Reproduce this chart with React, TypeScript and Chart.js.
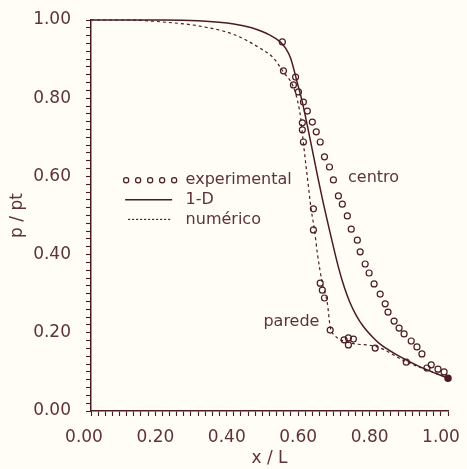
import React, { useEffect, useRef } from "react";
import { Chart, registerables } from "chart.js";

Chart.register(...registerables);

// 1-D model curve
const oneDX = [0, 0.1, 0.2, 0.3, 0.4, 0.45, 0.5, 0.53, 0.545, 0.559, 0.578, 0.592, 0.606, 0.62, 0.634, 0.648, 0.67, 0.693, 0.71, 0.725, 0.742, 0.763, 0.79, 0.81, 0.858, 0.922, 1.0];
const oneDY = [1, 1, 1, 0.998, 0.99, 0.98, 0.962, 0.944, 0.928, 0.903, 0.839, 0.79, 0.73, 0.667, 0.604, 0.543, 0.455, 0.368, 0.315, 0.278, 0.246, 0.216, 0.188, 0.171, 0.143, 0.113, 0.084];

// numerical (wall) curve
const numX = [0, 0.1, 0.2, 0.3, 0.4, 0.475, 0.511, 0.539, 0.567, 0.578, 0.587, 0.595, 0.606, 0.617, 0.626, 0.634, 0.648, 0.662, 0.67, 0.682, 0.718, 0.802, 0.885, 0.941, 1.0];
const numY = [1, 1, 0.995, 0.985, 0.963, 0.927, 0.903, 0.867, 0.829, 0.795, 0.752, 0.685, 0.598, 0.514, 0.463, 0.404, 0.327, 0.276, 0.215, 0.194, 0.176, 0.164, 0.125, 0.105, 0.084];

// experimental, centre line
const centroX = [0.536, 0.573, 0.581, 0.595, 0.606, 0.62, 0.631, 0.642, 0.654, 0.668, 0.679, 0.693, 0.704, 0.718, 0.729, 0.746, 0.754, 0.768, 0.779, 0.793, 0.81, 0.824, 0.832, 0.849, 0.863, 0.877, 0.897, 0.913, 0.927, 0.953, 0.972, 0.989];
const centroY = [0.944, 0.854, 0.816, 0.79, 0.767, 0.739, 0.714, 0.688, 0.65, 0.624, 0.591, 0.55, 0.529, 0.499, 0.465, 0.437, 0.407, 0.376, 0.353, 0.325, 0.299, 0.274, 0.253, 0.23, 0.212, 0.197, 0.179, 0.164, 0.146, 0.118, 0.107, 0.1];

// experimental, wall
const paredeX = [0.539, 0.567, 0.592, 0.592, 0.595, 0.623, 0.623, 0.642, 0.648, 0.654, 0.67, 0.709, 0.721, 0.735, 0.721, 0.796, 0.883, 0.941];
const paredeY = [0.87, 0.834, 0.737, 0.719, 0.688, 0.517, 0.463, 0.327, 0.309, 0.289, 0.207, 0.182, 0.187, 0.184, 0.169, 0.161, 0.125, 0.11];

const tickLabelsShown = ["0.00", "0.20", "0.40", "0.60", "0.80", "1.00"];

const LINE = "#4a1c22";
const TEXT = "#5e3338";
const BG = "#fffdf6";
const FONT = "'DejaVu Sans', sans-serif";

const zip = (xs: number[], ys: number[]) => xs.map((x, i) => ({ x, y: ys[i] }));

const overlayPlugin = {
  id: "overlay",
  beforeDraw(chart: any) {
    const { ctx, width, height } = chart;
    ctx.save();
    ctx.fillStyle = BG;
    ctx.fillRect(0, 0, width, height);
    ctx.restore();
  },
  afterDraw(chart: any) {
    const { ctx, scales } = chart;
    const xs = scales.x;
    const ys = scales.y;
    ctx.save();
    ctx.font = `16px ${FONT}`;
    ctx.fillStyle = TEXT;
    ctx.strokeStyle = LINE;
    ctx.textBaseline = "middle";
    ctx.textAlign = "left";
    // legend
    const lx = xs.getPixelForValue(0.09);
    const textX = xs.getPixelForValue(0.265);
    const row1 = ys.getPixelForValue(0.59);
    const row2 = ys.getPixelForValue(0.54);
    const row3 = ys.getPixelForValue(0.49);
    ctx.lineWidth = 1.2;
    for (let i = 0; i < 5; i++) {
      ctx.beginPath();
      ctx.arc(lx + 3 + i * 12, row1, 2.6, 0, Math.PI * 2);
      ctx.stroke();
    }
    ctx.fillText("experimental", textX, row1);
    ctx.lineWidth = 1.5;
    ctx.beginPath();
    ctx.moveTo(lx + 2, row2);
    ctx.lineTo(lx + 49, row2);
    ctx.stroke();
    ctx.fillText("1-D", textX, row2);
    ctx.lineWidth = 1.2;
    ctx.setLineDash([2, 2]);
    ctx.beginPath();
    ctx.moveTo(lx + 5, row3);
    ctx.lineTo(lx + 48, row3);
    ctx.stroke();
    ctx.setLineDash([]);
    ctx.fillText("numérico", textX, row3);
    // annotations
    ctx.fillText("centro", xs.getPixelForValue(0.72), ys.getPixelForValue(0.596));
    ctx.fillText("parede", xs.getPixelForValue(0.483), ys.getPixelForValue(0.228));
    ctx.restore();
  },
};

const tickCallback = (v: any) => {
  const k = Math.round(Number(v) * 5);
  return Math.abs(Number(v) * 5 - k) < 1e-6 ? tickLabelsShown[k] : "";
};

export default function App() {
  const ref = useRef<HTMLCanvasElement | null>(null);
  useEffect(() => {
    if (!ref.current) return;
    const lastIdx = oneDX.length - 1;
    const chart = new Chart(ref.current, {
      type: "line",
      data: {
        datasets: [
          {
            label: "1-D",
            data: zip(oneDX, oneDY),
            borderColor: LINE,
            backgroundColor: LINE,
            borderWidth: 1.5,
            cubicInterpolationMode: "monotone",
            pointRadius: (c: any) => (c.dataIndex === lastIdx ? 3 : 0),
            fill: false,
            clip: 6,
          },
          {
            label: "numérico",
            data: zip(numX, numY),
            borderColor: LINE,
            borderWidth: 1.2,
            borderDash: [3, 3],
            cubicInterpolationMode: "monotone",
            pointRadius: 0,
            fill: false,
            clip: 6,
          },
          {
            label: "experimental",
            data: zip(centroX, centroY),
            showLine: false,
            borderColor: LINE,
            backgroundColor: "rgba(0,0,0,0)",
            pointStyle: "circle",
            pointRadius: 3,
            pointBorderWidth: 1.2,
            clip: 6,
          },
          {
            label: "experimental parede",
            data: zip(paredeX, paredeY),
            showLine: false,
            borderColor: LINE,
            backgroundColor: "rgba(0,0,0,0)",
            pointStyle: "circle",
            pointRadius: 3,
            pointBorderWidth: 1.2,
            clip: 6,
          },
        ],
      },
      options: {
        responsive: false,
        animation: false,
        events: [],
        layout: { padding: { top: 20, right: 19, left: 0, bottom: 0 } },
        plugins: { legend: { display: false }, tooltip: { enabled: false } },
        scales: {
          x: {
            type: "linear",
            min: 0,
            max: 1,
            afterFit: (s: any) => {
              s.height = 58;
              s.paddingLeft = 0;
              s.paddingRight = 0;
            },
            border: { display: true, color: LINE, width: 1.5 },
            grid: { drawOnChartArea: false, drawTicks: true, tickLength: 5, color: LINE, tickWidth: 1.1 },
            ticks: {
              stepSize: 0.02,
              maxTicksLimit: 100,
              autoSkip: false,
              maxRotation: 0,
              minRotation: 0,
              padding: 11,
              labelOffset: -7,
              color: TEXT,
              font: { family: FONT, size: 17 },
              callback: tickCallback,
            },
            title: { display: true, text: "x / L", color: TEXT, font: { family: FONT, size: 17 }, padding: { top: 0, bottom: 0 } },
          },
          y: {
            type: "linear",
            min: 0,
            max: 1,
            afterFit: (s: any) => {
              s.width = 91;
              s.paddingTop = 0;
              s.paddingBottom = 0;
            },
            border: { display: true, color: LINE, width: 1.5 },
            grid: { drawOnChartArea: false, drawTicks: true, tickLength: 5, color: LINE, tickWidth: 1.1 },
            ticks: {
              stepSize: 0.02,
              maxTicksLimit: 100,
              autoSkip: false,
              padding: 15,
              color: TEXT,
              font: { family: FONT, size: 17 },
              callback: tickCallback,
            },
            title: { display: true, text: "p / pt", color: TEXT, font: { family: FONT, size: 17 }, padding: { top: 7, bottom: 0 } },
          },
        },
      } as any,
      plugins: [overlayPlugin],
    });
    return () => chart.destroy();
  }, []);
  return (
    <div style={{ position: "fixed", left: 0, top: 0, width: 467, height: 469 }}>
      <canvas ref={ref} width={467} height={469} style={{ display: "block", width: 467, height: 469 }} />
    </div>
  );
}
